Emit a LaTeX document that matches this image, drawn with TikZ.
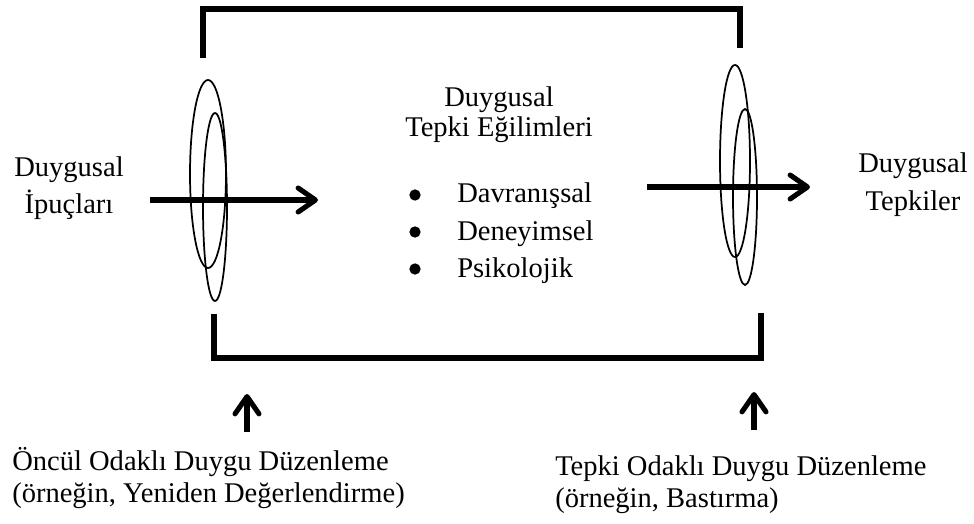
\documentclass[tikz,border=0pt]{standalone}
\usepackage{fontspec}
\setmainfont{Liberation Serif}
\usetikzlibrary{arrows.meta}

\tikzset{
  txt/.style={font=\fontsize{21.4}{28.5}\selectfont, inner sep=0pt},
  dot/.style={circle, fill, inner sep=0pt, minimum size=8.5pt},
  frame/.style={line width=4.5pt},
  ring/.style={line width=1.3pt},
  flow/.style={line width=3.8pt, -{Straight Barb[length=13pt,width=18pt,line cap=round,line join=round]}},
}

\begin{document}
\begin{tikzpicture}[x=0.75pt,y=-0.75pt]
\useasboundingbox (0,0) rectangle (974,524);

% brackets
\draw [frame] (203,58) -- (203,9) -- (740,9) -- (740,48);
\draw [frame] (214,314) -- (214,358) -- (761,358) -- (761,313);

% rings
\draw [ring] (208,174) ellipse [x radius=18, y radius=94];
\draw [ring] (215,207) ellipse [x radius=12, y radius=94];
\draw [ring] (735,161) ellipse [x radius=15, y radius=96];
\draw [ring] (745,197) ellipse [x radius=12, y radius=88];

% left
\node [txt, anchor=base] (cueA) at (69,176) {Duygusal};
\node [txt, anchor=base] (cueB) at (69,214) {İpuçları};

% middle
\node [txt, anchor=base] (tendA) at (499,107) {Duygusal};
\node [txt, anchor=base] (tendB) at (499,137) {Tepki Eğilimleri};
\node [dot] (dotA) at (415,195) {};
\node [dot] (dotB) at (415,232) {};
\node [dot] (dotC) at (415,269) {};
\node [txt, anchor=base west] (beh) at (457,203) {Davranışsal};
\node [txt, anchor=base west] (exp) at (457,240) {Deneyimsel};
\node [txt, anchor=base west] (psy) at (457,277) {Psikolojik};

% right
\node [txt, anchor=base] (respA) at (913,173) {Duygusal};
\node [txt, anchor=base] (respB) at (913,210) {Tepkiler};

% bottom
\node [txt, anchor=base west] (antA) at (12,470) {Öncül Odaklı Duygu Düzenleme};
\node [txt, anchor=base west] (antB) at (12,502) {(örneğin, Yeniden Değerlendirme)};
\node [txt, anchor=base west] (rfA) at (555,475) {Tepki Odaklı Duygu Düzenleme};
\node [txt, anchor=base west] (rfB) at (555,507) {(örneğin, Bastırma)};

% arrows
\coordinate (inS) at (150,200);
\coordinate (inE) at (318,200);
\coordinate (outS) at (647,187);
\coordinate (outE) at (810,187);
\coordinate (upLS) at (247,432);
\coordinate (upLE) at (247,394);
\coordinate (upRS) at (754,430);
\coordinate (upRE) at (754,392);
\draw [flow] (inS) -- (inE);
\draw [flow] (outS) -- (outE);
\draw [flow] (upLS) -- (upLE);
\draw [flow] (upRS) -- (upRE);
\end{tikzpicture}
\end{document}
